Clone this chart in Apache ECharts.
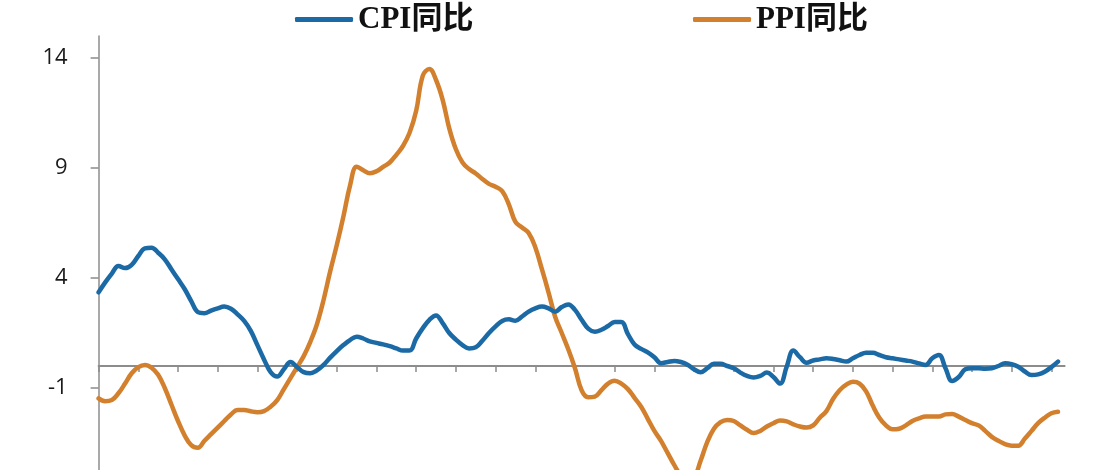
<!DOCTYPE html>
<html>
<head>
<meta charset="utf-8">
<script src="https://cdn.jsdelivr.net/npm/echarts@6/dist/echarts.min.js"></script>
<style>
html,body{margin:0;padding:0;background:#ffffff;}
#chart{width:1106px;height:470px;}
</style>
</head>
<body>
<div id="chart"></div>
<script>
const seriesNames = ['CPI同比', 'PPI同比'];
const yTickValues = [-6, -1, 4, 9, 14];

const cpi = [
  3.35, 3.8, 4.2, 4.55, 4.45, 4.6, 5.0, 5.35, 5.38, 5.15,
  4.85, 4.4, 3.95, 3.5, 2.95, 2.45, 2.4, 2.52, 2.62, 2.7,
  2.6, 2.35, 2.05, 1.6, 0.95, 0.3, -0.28, -0.48, -0.15, 0.18,
  -0.05, -0.28, -0.33, -0.2, 0.05, 0.38, 0.68, 0.95, 1.18, 1.33,
  1.25, 1.12, 1.05, 0.98, 0.9, 0.8, 0.7, 0.7, 1.25, 1.72,
  2.1, 2.3, 1.95, 1.5, 1.2, 0.95, 0.8, 0.85, 1.15, 1.5,
  1.8, 2.05, 2.12, 2.06, 2.25, 2.47, 2.62, 2.7, 2.62, 2.47,
  2.68, 2.8, 2.55, 2.1, 1.7, 1.56, 1.65, 1.82, 2.0, 2.0,
  1.45, 0.98, 0.78, 0.62, 0.4, 0.13, 0.18, 0.23, 0.18, 0.06,
  -0.15, -0.28, -0.1, 0.1, 0.1, 0.0, -0.1, -0.3, -0.45, -0.52,
  -0.45, -0.3, -0.5, -0.8, -0.03, 0.7, 0.4, 0.15, 0.25, 0.3,
  0.35, 0.32, 0.26, 0.2, 0.35, 0.5, 0.6, 0.6, 0.5, 0.4,
  0.35, 0.3, 0.25, 0.2, 0.12, 0.05, 0.35, 0.5, -0.1, -0.68,
  -0.5, -0.15, -0.1, -0.1, -0.12, -0.1, 0.0, 0.12, 0.08, -0.03,
  -0.25, -0.41, -0.38, -0.26, -0.05, 0.2, null
];

const ppi = [
  -1.47, -1.6, -1.55, -1.24, -0.8, -0.33, -0.05, 0.05, -0.08, -0.4,
  -1.0, -1.75, -2.5, -3.15, -3.6, -3.72, -3.4, -3.1, -2.8, -2.5,
  -2.2, -2.0, -2.0, -2.06, -2.1, -2.05, -1.85, -1.55, -1.05, -0.55,
  -0.05, 0.45, 1.1, 1.9, 3.0, 4.3, 5.5, 6.8, 8.2, 9.06,
  8.9, 8.76, 8.85, 9.05, 9.25, 9.6, 10.0, 10.6, 11.6, 13.2,
  13.5, 13.0, 12.1, 10.8, 9.85, 9.25, 8.95, 8.75, 8.5, 8.28,
  8.15, 7.95, 7.35, 6.55, 6.3, 6.05, 5.4, 4.4, 3.35, 2.24,
  1.5, 0.75, -0.1, -1.1, -1.42, -1.39, -1.1, -0.8, -0.67, -0.8,
  -1.05, -1.45, -1.85, -2.4, -2.95, -3.4, -3.95, -4.5, -5.0, -5.35,
  -5.1, -4.3, -3.45, -2.85, -2.55, -2.45, -2.5, -2.7, -2.9, -3.05,
  -2.95, -2.75, -2.6, -2.48, -2.52, -2.65, -2.75, -2.8, -2.7, -2.35,
  -2.05, -1.5, -1.1, -0.85, -0.72, -0.8, -1.15, -1.8, -2.35, -2.7,
  -2.88, -2.85, -2.7, -2.5, -2.38, -2.3, -2.3, -2.3, -2.2, -2.18,
  -2.3, -2.45, -2.6, -2.7, -2.95, -3.22, -3.4, -3.55, -3.62, -3.62,
  -3.3, -2.95, -2.6, -2.35, -2.15, -2.08, null
];

const categories = cpi.map((_, i) => String(i + 1));

const BLUE = '#1b6aa5';
const ORANGE = '#d2802e';
const AXIS = '#8c8c8c';

const chart = echarts.init(document.getElementById('chart'), null, {renderer: 'canvas'});

const legendText = {
  fontSize: 31,
  fontWeight: 'bold',
  color: '#111111',
  fontFamily: '"Liberation Serif", "Noto Sans CJK SC", serif'
};

chart.setOption({
  animation: false,
  backgroundColor: '#ffffff',
  grid: {left: 98.6, right: 41.4, top: 36, bottom: -28, containLabel: false, outerBoundsMode: 'none'},
  legend: [
    {
      data: [seriesNames[0]], left: 295, top: 4, padding: 0,
      itemWidth: 58, itemHeight: 5, itemGap: 5, icon: 'roundRect',
      textStyle: legendText
    },
    {
      data: [seriesNames[1]], left: 693, top: 4, padding: 0,
      itemWidth: 58, itemHeight: 5, itemGap: 5, icon: 'roundRect',
      textStyle: legendText
    }
  ],
  xAxis: {
    type: 'category',
    data: categories,
    boundaryGap: false,
    axisLine: {onZero: true, lineStyle: {color: AXIS, width: 2}},
    axisTick: {show: true, interval: 5, inside: false, length: 6, lineStyle: {color: AXIS, width: 1.5}},
    axisLabel: {show: false},
    splitLine: {show: false}
  },
  yAxis: {
    type: 'value',
    min: -6,
    max: 15,
    interval: 5,
    axisLine: {show: true, lineStyle: {color: AXIS, width: 1.5}},
    axisTick: {show: true, length: 8, customValues: yTickValues, lineStyle: {color: AXIS, width: 1.5}},
    axisLabel: {
      show: true, customValues: yTickValues, margin: 31,
      fontSize: 22, color: '#1a1a1a',
      fontFamily: '"Open Sans", "Noto Sans", sans-serif'
    },
    splitLine: {show: false}
  },
  series: [
    {
      name: seriesNames[0], type: 'line', data: cpi,
      smooth: 0.4, symbol: 'none', connectNulls: false,
      lineStyle: {color: BLUE, width: 4.5, cap: 'round', join: 'round'},
      itemStyle: {color: BLUE},
      z: 3
    },
    {
      name: seriesNames[1], type: 'line', data: ppi,
      smooth: 0.4, symbol: 'none', connectNulls: false,
      lineStyle: {color: ORANGE, width: 4.5, cap: 'round', join: 'round'},
      itemStyle: {color: ORANGE},
      z: 2
    }
  ]
});
</script>
</body>
</html>
